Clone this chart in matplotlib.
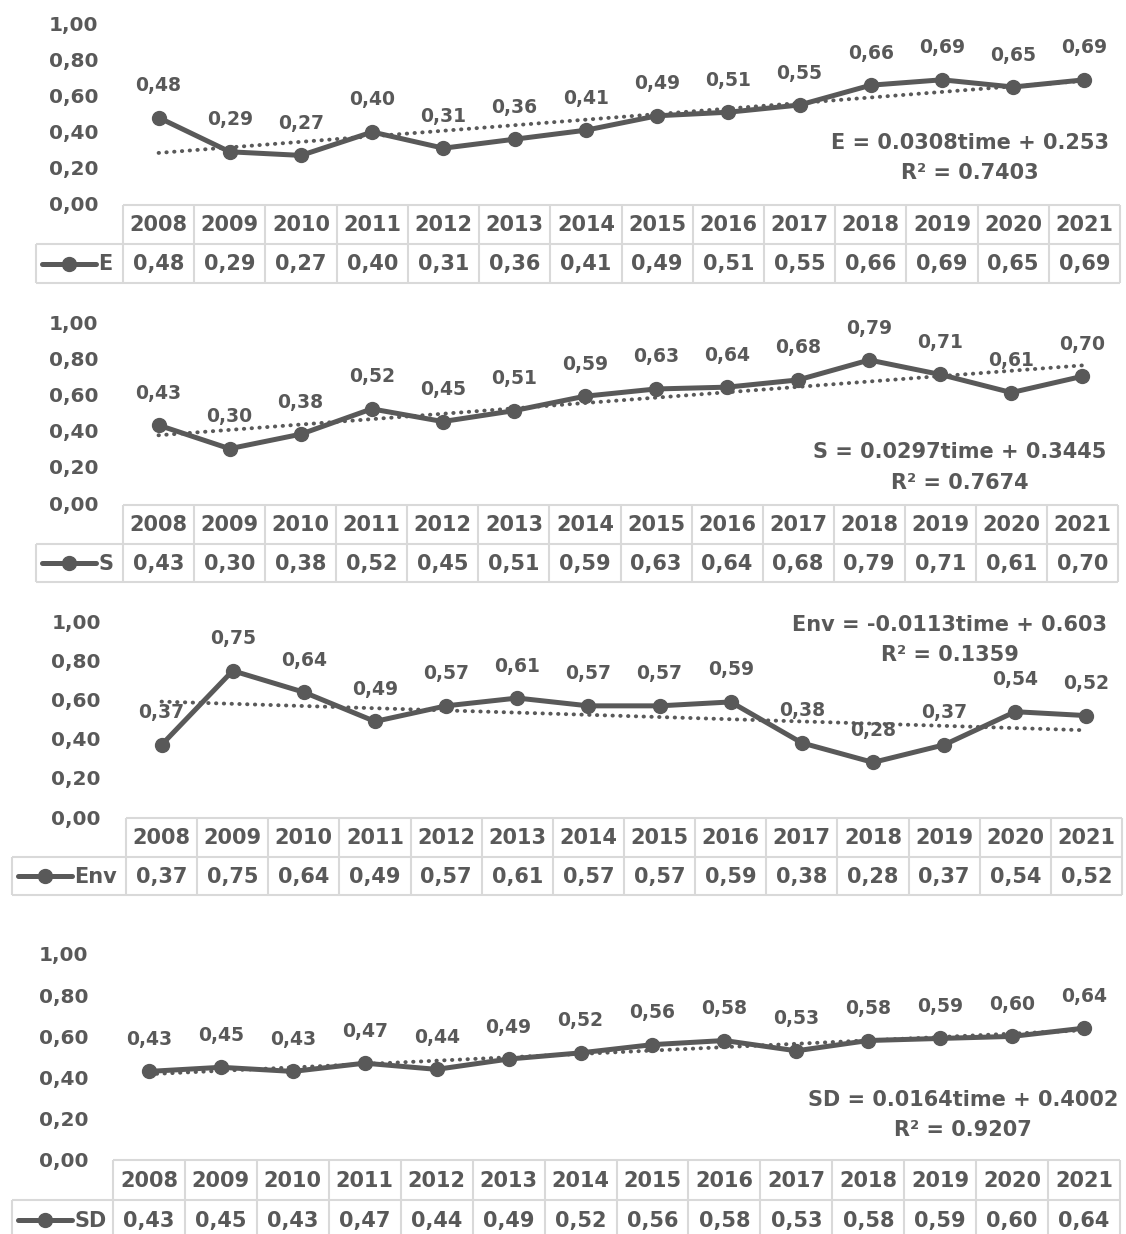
import numpy as np
import matplotlib
matplotlib.use("Agg")
import matplotlib.pyplot as plt

plt.rcParams['font.family'] = ['DejaVu Sans']
plt.rcParams['font.weight'] = 'bold'

years = [2008, 2009, 2010, 2011, 2012, 2013, 2014, 2015, 2016, 2017, 2018, 2019, 2020, 2021]
E_vals = [0.48, 0.29, 0.27, 0.40, 0.31, 0.36, 0.41, 0.49, 0.51, 0.55, 0.66, 0.69, 0.65, 0.69]
S_vals = [0.43, 0.30, 0.38, 0.52, 0.45, 0.51, 0.59, 0.63, 0.64, 0.68, 0.79, 0.71, 0.61, 0.70]
Env_vals = [0.37, 0.75, 0.64, 0.49, 0.57, 0.61, 0.57, 0.57, 0.59, 0.38, 0.28, 0.37, 0.54, 0.52]
SD_vals = [0.43, 0.45, 0.43, 0.47, 0.44, 0.49, 0.52, 0.56, 0.58, 0.53, 0.58, 0.59, 0.60, 0.64]

names = ["E", "S", "Env", "SD"]
series = [E_vals, S_vals, Env_vals, SD_vals]
slopes = [0.0308, 0.0297, -0.0113, 0.0164]
intercepts = [0.253, 0.3445, 0.603, 0.4002]
eq_texts = ["E = 0.0308time + 0.253", "S = 0.0297time + 0.3445",
            "Env = -0.0113time + 0.603", "SD = 0.0164time + 0.4002"]
r2_texts = ["R² = 0.7403", "R² = 0.7674", "R² = 0.1359", "R² = 0.9207"]

W, H = 1126, 1234
GRAY = '#595959'
GRID = '#d9d9d9'

# pixel layout per panel: y of 1.0, y of 0.0, table top/mid/bottom, legend left, col start, col end
layout = [
    dict(v1=24, v0=204, t=(205, 243, 283), leg=36, c0=123, c1=1120, eq=(970, 143, 173)),
    dict(v1=322, v0=503, t=(505, 543, 582), leg=36, c0=123, c1=1118, eq=(960, 452, 483)),
    dict(v1=622, v0=817, t=(818, 856, 895), leg=12, c0=126, c1=1122, eq=(950, 625, 655)),
    dict(v1=954, v0=1160, t=(1160, 1199, 1240), leg=12, c0=113, c1=1120, eq=(963, 1100, 1130)),
]

fig = plt.figure(figsize=(W / 100, H / 100), dpi=100)

def fmt(v):
    return f"{v:.2f}".replace('.', ',')

x = np.arange(len(years))
for name, vals, a, b, eq, r2, L in zip(names, series, slopes, intercepts, eq_texts, r2_texts, layout):
    # line chart
    ax = fig.add_axes([L['c0'] / W, 1 - L['v0'] / H, (L['c1'] - L['c0']) / W, (L['v0'] - L['v1']) / H])
    ax.set_xlim(-0.5, len(years) - 0.5)
    ax.set_ylim(0, 1)
    for s in ax.spines.values():
        s.set_visible(False)
    ax.set_xticks([])
    ticks = [0, 0.2, 0.4, 0.6, 0.8, 1.0]
    ax.set_yticks(ticks)
    ax.set_yticklabels([fmt(t) for t in ticks], fontsize=14.5, fontweight='bold', color=GRAY)
    ax.tick_params(axis='y', length=0, pad=18)
    ax.patch.set_alpha(0)

    trend = [a * (i + 1) + b for i in range(len(years))]
    ax.plot(x, trend, color=GRAY, lw=2.8, linestyle=(0, (0.1, 1.9)), dash_capstyle='round', clip_on=False)
    ax.plot(x, vals, color=GRAY, lw=3.6, marker='o', markersize=10, clip_on=False)
    for xi, v in zip(x, vals):
        ax.annotate(fmt(v), (xi, v), xytext=(0, 32), textcoords='offset pixels',
                    ha='center', va='center', fontsize=13.5, fontweight='bold', color=GRAY)

    ex, ey1, ey2 = L['eq']
    fig.text(ex / W, 1 - ey1 / H, eq, ha='center', va='center', fontsize=15, fontweight='bold', color=GRAY)
    fig.text(ex / W, 1 - ey2 / H, r2, ha='center', va='center', fontsize=15, fontweight='bold', color=GRAY)

    # data table
    t0, t1, t2 = L['t']
    tax = fig.add_axes([L['leg'] / W, 1 - t2 / H, (L['c1'] - L['leg']) / W, (t2 - t0) / H])
    colw = (L['c1'] - L['c0']) / len(years)
    xleft = -0.5 - (L['c0'] - L['leg']) / colw
    xr = len(years) - 0.5
    tax.set_xlim(xleft, xr)
    tax.set_ylim(2, 0)
    tax.axis('off')
    lk = dict(color=GRID, lw=1.5, clip_on=False, solid_capstyle='butt')
    tax.plot([-0.5, xr], [0, 0], **lk)
    tax.plot([xleft, xr], [1, 1], **lk)
    tax.plot([xleft, xr], [2, 2], **lk)
    tax.plot([xleft, xleft], [1, 2], **lk)
    for k in range(len(years) + 1):
        tax.plot([-0.5 + k, -0.5 + k], [0, 2], **lk)
    for xi, yr, v in zip(x, years, vals):
        tax.text(xi, 0.52, str(yr), ha='center', va='center', fontsize=15, fontweight='bold', color=GRAY)
        tax.text(xi, 1.52, fmt(v), ha='center', va='center', fontsize=15, fontweight='bold', color=GRAY)
    # legend key
    px = lambda p: xleft + (p - L['leg']) / colw
    tax.plot([px(L['leg'] + 6), px(L['leg'] + 60)], [1.5, 1.5], color=GRAY, lw=3.6,
             solid_capstyle='round', clip_on=False)
    tax.plot([px(L['leg'] + 33)], [1.5], 'o', color=GRAY, markersize=10, clip_on=False)
    tax.text(px(L['leg'] + 62), 1.52, name, ha='left', va='center', fontsize=15, fontweight='bold', color=GRAY)

fig.savefig("out.png", dpi=100)
